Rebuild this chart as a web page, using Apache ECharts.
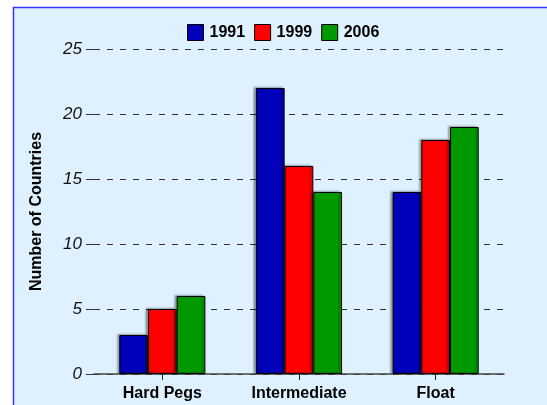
<!DOCTYPE html>
<html>
<head>
<meta charset="utf-8">
<script src="https://cdn.jsdelivr.net/npm/echarts@6/dist/echarts.min.js"></script>
<style>
  html, body { margin: 0; padding: 0; background: #fff; }
  #chart { width: 547px; height: 405px; }
</style>
</head>
<body>
<div id="chart"></div>
<script>
const categories = ["Hard Pegs", "Intermediate", "Float"];
const years = ["1991", "1999", "2006"];
const values1991 = [3, 22, 14];
const values1999 = [5, 16, 18];
const values2006 = [6, 14, 19];
const yTicks = [0, 5, 10, 15, 20, 25];

const colors = ["#0000bb", "#ff0000", "#009900"];
const font = "Liberation Sans, Arial, sans-serif";

const chart = echarts.init(document.getElementById("chart"));

const barSeries = [values1991, values1999, values2006].map((vals, i) => ({
  name: years[i],
  type: "bar",
  data: vals,
  barGap: "0%",
  barCategoryGap: "37%",
  itemStyle: {
    color: colors[i],
    borderColor: "#000",
    borderWidth: 1,
    shadowColor: "rgba(0,0,0,0.35)",
    shadowBlur: 2,
    shadowOffsetX: -2,
    shadowOffsetY: -1
  }
}));

chart.setOption({
  backgroundColor: "#fff",
  animation: false,
  graphic: [{
    type: "rect",
    z: -10,
    shape: { x: 13.5, y: 7.5, width: 560, height: 420 },
    style: { fill: "#dff0fe", stroke: "#3333ff", lineWidth: 1.5 }
  }],
  legend: {
    data: years,
    left: 182,
    top: 19,
    itemWidth: 16,
    itemHeight: 16,
    itemGap: 9,
    icon: "rect",
    textStyle: { fontFamily: font, fontSize: 16, fontWeight: "bold", color: "#000", padding: [0, 0, 0, 1] },
    itemStyle: { borderColor: "#000", borderWidth: 1 }
  },
  grid: { left: 94, right: 43, top: 49, bottom: 31, containLabel: false },
  xAxis: {
    type: "category",
    data: categories,
    axisLine: { lineStyle: { color: "#444", width: 1.5 } },
    axisTick: { show: true, alignWithLabel: true, length: 6, lineStyle: { color: "#222" } },
    axisLabel: { fontFamily: font, fontSize: 16, fontWeight: "bold", color: "#000", margin: 12 }
  },
  yAxis: {
    type: "value",
    min: yTicks[0],
    max: yTicks[yTicks.length - 1],
    interval: 5,
    name: "Number of Countries",
    nameLocation: "middle",
    nameGap: 49,
    nameTextStyle: { fontFamily: font, fontSize: 16, fontWeight: "bold", color: "#000" },
    axisLine: { show: false },
    axisTick: { show: true, inside: false, length: 8, lineStyle: { color: "#333" } },
    axisLabel: { fontFamily: font, fontSize: 17, fontStyle: "italic", color: "#111", margin: 12 },
    splitLine: { show: true, lineStyle: { color: "#333", type: [6, 7], width: 1 } }
  },
  series: barSeries
});
</script>
</body>
</html>
